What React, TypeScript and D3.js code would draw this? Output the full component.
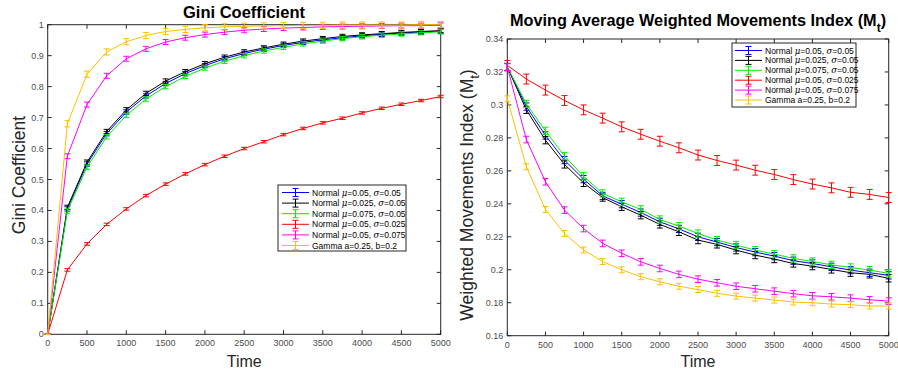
import React from 'react';
import * as d3 from 'd3';

const times = [0, 250, 500, 750, 1000, 1250, 1500, 1750, 2000, 2250, 2500, 2750, 3000, 3250, 3500, 3750, 4000, 4250, 4500, 4750, 5000];

const seriesColors = ['#0000ff', '#000000', '#00ee00', '#ff0000', '#ff00ff', '#ffbf00'];

// legend entries, same order as the series
const legendLabels = [
  { mu: '0.05', sigma: '0.05' },
  { mu: '0.025', sigma: '0.05' },
  { mu: '0.075', sigma: '0.05' },
  { mu: '0.05', sigma: '0.025' },
  { mu: '0.05', sigma: '0.075' },
  { text: 'Gamma a=0.25, b=0.2' },
];

// Gini coefficient
const giniBlue = [0, 0.405, 0.55, 0.648, 0.718, 0.77, 0.81, 0.842, 0.868, 0.89, 0.907, 0.921, 0.933, 0.943, 0.951, 0.958, 0.964, 0.969, 0.973, 0.976, 0.979];
const giniBlack = [0, 0.41, 0.556, 0.655, 0.725, 0.778, 0.818, 0.848, 0.874, 0.895, 0.912, 0.925, 0.937, 0.947, 0.955, 0.962, 0.967, 0.971, 0.975, 0.978, 0.981];
const giniGreen = [0, 0.398, 0.54, 0.638, 0.707, 0.76, 0.8, 0.833, 0.86, 0.882, 0.9, 0.915, 0.927, 0.938, 0.947, 0.955, 0.961, 0.966, 0.97, 0.974, 0.977];
const giniRed = [0, 0.208, 0.292, 0.355, 0.405, 0.448, 0.485, 0.518, 0.548, 0.575, 0.6, 0.622, 0.645, 0.665, 0.683, 0.698, 0.715, 0.73, 0.743, 0.755, 0.768];
const giniMagenta = [0, 0.575, 0.742, 0.835, 0.89, 0.922, 0.944, 0.958, 0.968, 0.976, 0.982, 0.986, 0.989, 0.991, 0.993, 0.994, 0.995, 0.996, 0.997, 0.997, 0.998];
const giniYellow = [0, 0.68, 0.84, 0.912, 0.945, 0.965, 0.978, 0.985, 0.99, 0.993, 0.995, 0.996, 0.997, 0.998, 0.998, 0.999, 0.999, 0.999, 0.999, 1.0, 1.0];
const giniErr = [0.007, 0.007, 0.007, 0.004, 0.008, 0.01];

// Moving average weighted movements index
const mwBlue = [0.323, 0.299, 0.2815, 0.2665, 0.255, 0.2448, 0.2398, 0.2347, 0.2291, 0.2248, 0.22, 0.2168, 0.2135, 0.2107, 0.2083, 0.2055, 0.2038, 0.2018, 0.1998, 0.1982, 0.1966];
const mwBlack = [0.323, 0.297, 0.2786, 0.2639, 0.2527, 0.2438, 0.2382, 0.2331, 0.2275, 0.223, 0.218, 0.2154, 0.2119, 0.2089, 0.2065, 0.2038, 0.2022, 0.2002, 0.1982, 0.1972, 0.1948];
const mwGreen = [0.323, 0.3006, 0.2843, 0.269, 0.2567, 0.2463, 0.2412, 0.2366, 0.2305, 0.2265, 0.222, 0.218, 0.215, 0.2119, 0.2095, 0.2069, 0.205, 0.203, 0.2014, 0.1998, 0.1978];
const mwRed = [0.324, 0.3157, 0.309, 0.3027, 0.297, 0.292, 0.2867, 0.2822, 0.278, 0.274, 0.2696, 0.2663, 0.2635, 0.2604, 0.2578, 0.2547, 0.252, 0.2497, 0.247, 0.2457, 0.2438];
const mwMagenta = [0.323, 0.279, 0.2534, 0.2362, 0.225, 0.216, 0.21, 0.2048, 0.2008, 0.1972, 0.1943, 0.1921, 0.19, 0.1885, 0.187, 0.1855, 0.1842, 0.1836, 0.1828, 0.1818, 0.181];
const mwYellow = [0.3037, 0.2625, 0.2366, 0.222, 0.212, 0.205, 0.2, 0.1958, 0.1927, 0.19, 0.188, 0.1857, 0.184, 0.1828, 0.1816, 0.1804, 0.18, 0.1792, 0.1788, 0.178, 0.178];
const mwErr = [0.0022, 0.0022, 0.0022, 0.003, 0.002, 0.0018];

const xTicks = [0, 500, 1000, 1500, 2000, 2500, 3000, 3500, 4000, 4500, 5000];
const giniTicks = [0, 0.1, 0.2, 0.3, 0.4, 0.5, 0.6, 0.7, 0.8, 0.9, 1];
const mwTicks = [0.16, 0.18, 0.2, 0.22, 0.24, 0.26, 0.28, 0.3, 0.32, 0.34];

const FONT = '"Liberation Sans", Arial, Helvetica, sans-serif';
const TICK_COLOR = '#262626';
const LABEL_COLOR = '#4d4d4d';

type Box = { left: number; right: number; top: number; bottom: number };

function Legend({ x, y, w, h, rowH, lineStart, lineEnd, textX }: any) {
  return (
    <g>
      <rect x={x} y={y} width={w} height={h} fill="#fff" stroke="#262626" strokeWidth={1} />
      {legendLabels.map((lab: any, i: number) => {
        const cy = y + 7.5 + i * rowH;
        const mid = (lineStart + lineEnd) / 2;
        const c = seriesColors[i];
        return (
          <g key={i}>
            <line x1={lineStart} x2={lineEnd} y1={cy} y2={cy} stroke={c} strokeWidth={1} />
            <line x1={mid} x2={mid} y1={cy - 4} y2={cy + 4} stroke={c} strokeWidth={1} />
            <line x1={mid - 3} x2={mid + 3} y1={cy - 4} y2={cy - 4} stroke={c} strokeWidth={1} />
            <line x1={mid - 3} x2={mid + 3} y1={cy + 4} y2={cy + 4} stroke={c} strokeWidth={1} />
            <text x={textX} y={cy + 3} fontSize={8.5} fontFamily={FONT} fill="#000">
              {lab.text ? lab.text : (
                <>
                  {'Normal '}
                  <tspan fontStyle="italic" fontFamily='"DejaVu Serif", serif'>μ</tspan>
                  {`=${lab.mu}, `}
                  <tspan fontStyle="italic" fontFamily='"DejaVu Serif", serif'>σ</tspan>
                  {`=${lab.sigma}`}
                </>
              )}
            </text>
          </g>
        );
      })}
    </g>
  );
}

function Panel({ box, yDomain, yTicks, series, errs, title, ylabel, legend }: any) {
  const x = d3.scaleLinear().domain([0, 5000]).range([box.left, box.right]);
  const y = d3.scaleLinear().domain(yDomain).range([box.bottom, box.top]);
  const line = d3.line<number>().x((_, i) => x(times[i])).y(d => y(d));
  const tl = 4;
  const fmt = (v: number) => String(+v.toFixed(2));
  return (
    <g>
      {/* axes box and ticks */}
      <rect x={box.left} y={box.top} width={box.right - box.left} height={box.bottom - box.top} fill="#fff" stroke={TICK_COLOR} strokeWidth={1} />
      {xTicks.map(t => (
        <g key={'x' + t}>
          <line x1={x(t)} x2={x(t)} y1={box.bottom} y2={box.bottom - tl} stroke={TICK_COLOR} />
          <line x1={x(t)} x2={x(t)} y1={box.top} y2={box.top + tl} stroke={TICK_COLOR} />
          <text x={x(t)} y={box.bottom + 12} textAnchor="middle" fontSize={9} fontFamily={FONT} fill={LABEL_COLOR}>{t}</text>
        </g>
      ))}
      {yTicks.map((t: number) => (
        <g key={'y' + t}>
          <line x1={box.left} x2={box.left + tl} y1={y(t)} y2={y(t)} stroke={TICK_COLOR} />
          <line x1={box.right} x2={box.right - tl} y1={y(t)} y2={y(t)} stroke={TICK_COLOR} />
          <text x={box.left - 4} y={y(t) + 3} textAnchor="end" fontSize={9} fontFamily={FONT} fill={LABEL_COLOR}>{fmt(t)}</text>
        </g>
      ))}
      {/* series */}
      {series.map((vals: number[], si: number) => {
        const c = seriesColors[si];
        const e = errs[si];
        return (
          <g key={si}>
            <path d={line(vals) || ''} fill="none" stroke={c} strokeWidth={1} />
            {vals.map((v, i) => {
              const err = v === 0 ? 0 : e;
              const cx = x(times[i]);
              const y1 = y(v - err);
              const y2 = y(v + err);
              return (
                <g key={i} stroke={c} strokeWidth={1}>
                  <line x1={cx} x2={cx} y1={y1} y2={y2} />
                  <line x1={cx - 3} x2={cx + 3} y1={y1} y2={y1} />
                  <line x1={cx - 3} x2={cx + 3} y1={y2} y2={y2} />
                </g>
              );
            })}
          </g>
        );
      })}
      {title}
      {ylabel}
      <text x={(box.left + box.right) / 2} y={367} textAnchor="middle" fontSize={16} fontFamily={FONT} fill={TICK_COLOR}>Time</text>
      {legend}
    </g>
  );
}

export default function App() {
  const leftBox: Box = { left: 47.7, right: 440.7, top: 24.7, bottom: 334.3 };
  const rightBox: Box = { left: 507.3, right: 888.7, top: 39, bottom: 335.7 };
  return (
    <svg width={898} height={375} style={{ position: 'absolute', left: 0, top: 0, background: '#fff' }}>
      <rect width={898} height={375} fill="#fff" />
      <Panel
        box={leftBox}
        yDomain={[0, 1]}
        yTicks={giniTicks}
        series={[giniBlue, giniBlack, giniGreen, giniRed, giniMagenta, giniYellow]}
        errs={giniErr}
        title={<text x={244} y={18} textAnchor="middle" fontSize={16.5} fontWeight="bold" fontFamily={FONT}>Gini Coefficient</text>}
        ylabel={<text transform="translate(24.5,175) rotate(-90)" textAnchor="middle" fontSize={17.5} fontFamily={FONT} fill={TICK_COLOR}>Gini Coefficient</text>}
        legend={<Legend x={278} y={185} w={128} h={66} rowH={10.6} lineStart={282} lineEnd={309} textX={312} />}
      />
      <Panel
        box={rightBox}
        yDomain={[0.16, 0.34]}
        yTicks={mwTicks}
        series={[mwBlue, mwBlack, mwGreen, mwRed, mwMagenta, mwYellow]}
        errs={mwErr}
        title={
          <text x={698} y={26} textAnchor="middle" fontSize={16.3} fontWeight="bold" fontFamily={FONT}>
            Moving Average Weighted Movements Index (M<tspan dy={6} fontSize={12}>t</tspan><tspan dy={-6}>)</tspan>
          </text>
        }
        ylabel={
          <text transform="translate(473,195) rotate(-90)" textAnchor="middle" fontSize={17.5} fontFamily={FONT} fill={TICK_COLOR}>
            Weighted Movements Index (M<tspan dy={6} fontSize={13}>t</tspan><tspan dy={-6}>)</tspan>
          </text>
        }
        legend={<Legend x={732} y={43} w={124} h={64} rowH={9.9} lineStart={735} lineEnd={762} textX={765} />}
      />
    </svg>
  );
}
